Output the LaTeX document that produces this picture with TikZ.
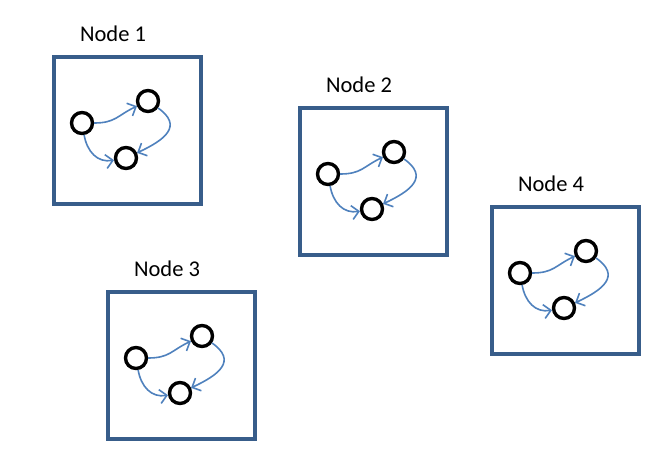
\documentclass[tikz,border=0pt]{standalone}
\usepackage{fontspec}
\setmainfont{Carlito}
\usetikzlibrary{arrows.meta}

\definecolor{framecol}{HTML}{385D8A}
\definecolor{linkcol}{HTML}{4F81BD}

\begin{document}
\begin{tikzpicture}[x=1pt,y=1pt,
  frame/.style={draw=framecol, line width=3.6pt, minimum size=147pt, inner sep=0pt},
  vertex/.style={circle, draw, line width=3.4pt, minimum size=21pt, inner sep=0pt},
  link/.style={draw=linkcol, line width=1.6pt, -{Straight Barb[length=7pt,width=14pt]}},
  title/.style={font=\fontsize{22.5}{25}\selectfont}]

\useasboundingbox (0,0) rectangle (654,-448);

% one box per node, with its small graph inside
\foreach \i/\x/\y in {1/52/55, 2/298/106, 3/106/290, 4/490/205} {
  \begin{scope}[shift={(\x,-\y)}]
    \node[frame, anchor=north west] (box\i) at (0,0) {};
    \node[title] (lab\i) at (61,21) {Node \i};

    \node[vertex] (a\i) at (30,-68) {};
    \node[vertex] (b\i) at (96,-46) {};
    \node[vertex] (c\i) at (74,-103) {};

    \draw[link] (a\i) to[out=0,in=205,looseness=1.2] (b\i);
    \draw[link] (b\i) to[out=-35,in=25,looseness=1.6] (c\i);
    \draw[link] (a\i) to[out=-80,in=190,looseness=1.1] (c\i);
  \end{scope}
}

\end{tikzpicture}
\end{document}
